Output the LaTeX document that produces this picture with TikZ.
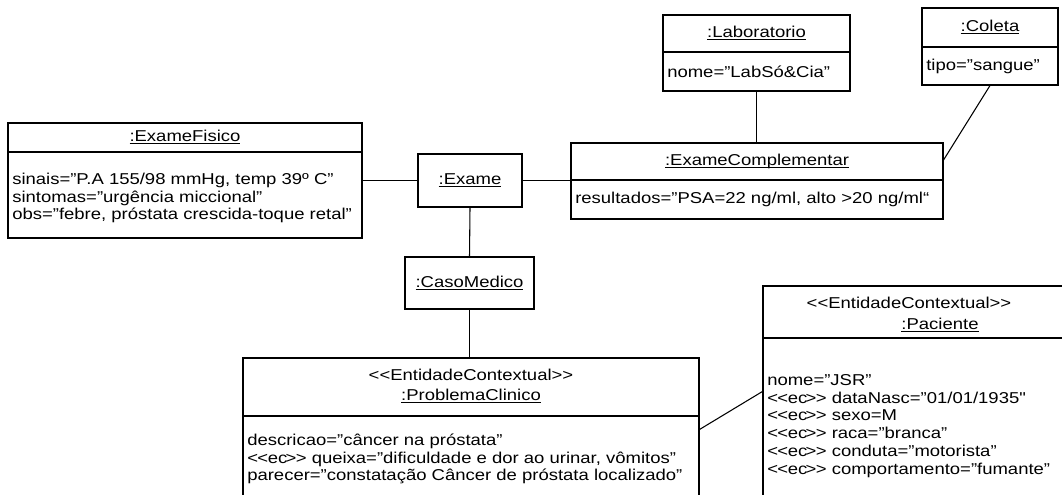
\documentclass[tikz,border=0pt]{standalone}
\usepackage{fontspec}
\newfontfamily\arialf{Liberation Sans}[FakeStretch=1.175]
\usetikzlibrary{fit}
\newcommand\uln[1]{\underline{\raisebox{0pt}[\height][0pt]{#1}}}
\newcommand\ecst{<\kern-0.5pt<\kern-0.3pt ec\kern-1.2pt>\kern-0.5pt>}
\tikzset{
  box/.style={draw, line width=0.8pt, rectangle, inner sep=0pt},
  ttl/.style={inner sep=0pt, font=\arialf\fontsize{11.8}{13.3}\selectfont, align=center},
  attr/.style={inner sep=0pt, anchor=west, font=\arialf\fontsize{11.8}{13.3}\selectfont, align=left},
  conn/.style={line width=0.8pt},
  divider/.style={line width=0.8pt}
}
\begin{document}
\begin{tikzpicture}[x=0.75pt,y=-0.75pt]
\useasboundingbox (0,0) rectangle (1062,495);
\clip (0,0) rectangle (1062,495);

% ExameFisico
\node[box, fit={(8,123)(362,238)}] (fisico) {};
\draw[divider] (fisico.west |- 0,152) -- (fisico.east |- 0,152);
\node[ttl] (fisicoT) at (fisico.north |- 0,137.5) {\uln{:ExameFisico}};
\node[attr] (fisicoA) at (12,198) {sinais=”P.A 155/98 mmHg, temp 39º C”\\sintomas=”urgência miccional”\\obs=”febre, próstata crescida-toque retal”};

% Exame
\node[box, fit={(418,154)(522,207)}] (exame) {};
\node[ttl] (exameT) at (exame.center) {\uln{:Exame}};

% Laboratorio
\node[box, fit={(663,15)(850,91)}] (lab) {};
\draw[divider] (lab.west |- 0,52) -- (lab.east |- 0,52);
\node[ttl] (labT) at (lab.north |- 0,33.5) {\uln{:Laboratorio}};
\node[attr] (labA) at (667,71.5) {nome=”LabSó\&Cia”};

% Coleta
\node[box, fit={(922,8)(1058,85)}] (coleta) {};
\draw[divider] (coleta.west |- 0,47) -- (coleta.east |- 0,47);
\node[ttl] (coletaT) at (coleta.north |- 0,27.5) {\uln{:Coleta}};
\node[attr] (coletaA) at (926,66) {tipo=”sangue”};

% ExameComplementar
\node[box, fit={(571,143)(943,219)}] (excomp) {};
\draw[divider] (excomp.west |- 0,180) -- (excomp.east |- 0,180);
\node[ttl] (excompT) at (excomp.north |- 0,161.5) {\uln{:ExameComplementar}};
\node[attr] (excompA) at (575,199.5) {resultados=”PSA=22 ng/ml, alto >20 ng/ml“};

% CasoMedico
\node[box, fit={(405,257)(534,309)}] (caso) {};
\node[ttl] (casoT) at (caso.center) {\uln{:CasoMedico}};

% ProblemaClinico
\node[box, fit={(243,358)(699,520)}] (prob) {};
\draw[divider] (prob.west |- 0,416) -- (prob.east |- 0,416);
\node[ttl] (probS) at (471,375) {<<EntidadeContextual>>};
\node[ttl] (probT) at (471,396) {\uln{:ProblemaClinico}};
\node[attr] (probA) at (247,459) {descricao=”câncer na próstata”\\\ecst{} queixa=”dificuldade e dor ao urinar, vômitos”\\parecer=”constatação Câncer de próstata localizado”};

% Paciente
\node[box, fit={(763,286)(1080,520)}] (pac) {};
\draw[divider] (pac.west |- 0,338) -- (pac.east |- 0,338);
\node[ttl] (pacS) at (909,303) {<<EntidadeContextual>>};
\node[ttl] (pacT) at (940,325) {\uln{:Paciente}};
\node[attr] (pacA) at (767,426) {nome=”JSR”\\\ecst{} dataNasc=”01/01/1935"\\\ecst{} sexo=M\\\ecst{} raca=”branca”\\\ecst{} conduta=”motorista”\\\ecst{} comportamento=”fumante”};

% connectors
\draw[conn] (fisico.east) -- (exame.west);
\draw[conn] (exame.east) -- (excomp.west |- exame.east);
\draw[conn] (lab.south) -- (excomp.north -| lab.south);
\draw[conn] (coleta.south) -- ([yshift=15.75pt]excomp.east);
\draw[conn] (exame.south) -- (caso.north);
\draw[conn] (caso.south) -- (prob.north -| caso.south);
\draw[conn] ([yshift=-54pt]prob.north east) -- ([yshift=-79.5pt]pac.north west);
\end{tikzpicture}
\end{document}
